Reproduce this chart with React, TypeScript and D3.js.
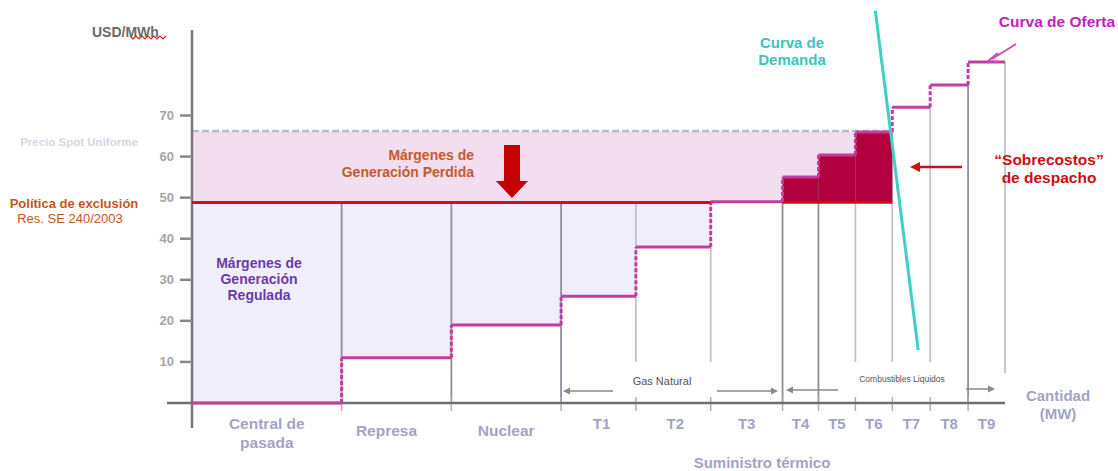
import React from "react";
import * as d3 from "d3";

const categories = ["Central de pasada", "Represa", "Nuclear", "T1", "T2", "T3", "T4", "T5", "T6", "T7", "T8", "T9"];
const capacities = [150, 110, 110, 75, 75, 72, 36, 37, 37, 38, 38, 37];
const costs = [0, 11, 19, 26, 38, 49, 55, 60.4, 66, 72, 77.4, 83];
const yTicks = [10, 20, 30, 40, 50, 60, 70];
const spotPrice = 66.2;
const exclusionPrice = 48.8;
const demandQ = [685, 728];
const demandP = [95.5, 12.9];
const fullBoundaries = [1, 2, 3, 6, 7, 11];
const labelShift = [0, -10, 0, 3, 2, 0, 0, 0, 0, 0, 0, 0];

const W = 1118, H = 471;
const X0 = 192, X1 = 1005, Y0 = 403;

export default function App() {
  const total = d3.sum(capacities);
  const x = d3.scaleLinear().domain([0, total]).range([X0, X1]);
  const y = d3.scaleLinear().domain([0, 70]).range([Y0, 115.5]);
  const edges = [0, ...d3.cumsum(capacities)];
  const segs = categories.map((c, i) => ({ name: c, q0: edges[i], q1: edges[i + 1], p: costs[i] }));
  const spotEnd = segs.find((s) => Math.abs(s.p - spotPrice) < 1)!.q1;
  const redEnd = segs.filter((s) => s.p < exclusionPrice - 0.01).slice(-1)[0].q1;
  const magenta = "#c23d9e";
  const labelCol = "#a5a3c3";
  const font = "Liberation Sans, Arial, sans-serif";
  const demandLine = d3.line<number>().x((d, i) => x(demandQ[i])).y((d) => y(d));

  const sq: string[] = [];
  for (let i = 0; i <= 12; i++) sq.push(`${130 + i * 3},${37 + (i % 2 ? 2 : -1)}`);

  return (
    <svg width={W} height={H} style={{ position: "absolute", left: 0, top: 0, background: "#fff" }} fontFamily={font}>
      <rect x={x(0)} y={y(spotPrice)} width={x(spotEnd) - x(0)} height={y(exclusionPrice) - y(spotPrice)} fill="#f3def0" />
      {segs.filter((s) => s.p < exclusionPrice - 0.01).map((s, i) => (
        <rect key={"lav" + i} x={x(s.q0)} y={y(exclusionPrice)} width={x(s.q1) - x(s.q0)} height={y(s.p) - y(exclusionPrice)} fill="#f0eefb" />
      ))}
      {edges.slice(1).map((e, k) => {
        const idx = k + 1;
        const top = y(Math.max(costs[k], exclusionPrice));
        const full = fullBoundaries.includes(idx);
        const bottom = full ? Y0 : idx === edges.length - 1 ? 373 : 362;
        return <line key={"b" + idx} x1={x(e)} x2={x(e)} y1={top} y2={bottom} stroke={full ? "#8e8e9c" : "#c2c2cc"} strokeWidth={1.8} />;
      })}
      {edges.slice(1, -1).map((e, k) => (
        <line key={"t" + k} x1={x(e)} x2={x(e)} y1={Y0 - 6} y2={Y0 + 8} stroke="#b0b0bb" strokeWidth={1.5} />
      ))}
      {segs.filter((s) => s.p > exclusionPrice + 0.01 && s.p <= spotPrice + 0.5).map((s, i) => (
        <rect key={"cr" + i} x={x(s.q0)} y={y(s.p)} width={x(s.q1) - x(s.q0)} height={y(exclusionPrice) - y(s.p)} fill="#b1003d" />
      ))}
      <line x1={x(segs[6].q0)} x2={x(spotEnd)} y1={y(exclusionPrice)} y2={y(exclusionPrice)} stroke="#d2101a" strokeWidth={2.5} />
      <line x1={x(0)} x2={x(spotEnd)} y1={y(spotPrice)} y2={y(spotPrice)} stroke="#b7bdd0" strokeWidth={2.5} strokeDasharray="7,3" />
      <line x1={X0} x2={X0} y1={30} y2={428} stroke="#777" strokeWidth={2.5} />
      <line x1={167} x2={X1} y1={Y0} y2={Y0} stroke="#6f6f6f" strokeWidth={2.5} />
      {yTicks.map((t) => (
        <g key={"yt" + t}>
          <line x1={180} x2={X0} y1={y(t)} y2={y(t)} stroke="#888" strokeWidth={2.5} />
          <text x={174} y={y(t) + 4.5} textAnchor="end" fontSize={13} fontWeight="bold" fill="#a6a6a6">{t}</text>
        </g>
      ))}
      {segs.map((s, i) => (
        <line key={"h" + i} x1={x(s.q0)} x2={x(s.q1)} y1={y(s.p)} y2={y(s.p)} stroke={magenta} strokeWidth={3} />
      ))}
      {segs.slice(1).map((s, i) => (
        <line key={"r" + i} x1={x(s.q0)} x2={x(s.q0)} y1={y(segs[i].p)} y2={y(s.p)} stroke={magenta} strokeWidth={3} strokeDasharray="4,2" />
      ))}
      <line x1={x(0)} x2={x(redEnd)} y1={y(exclusionPrice)} y2={y(exclusionPrice)} stroke="#d2101a" strokeWidth={3} />
      <path d={demandLine(demandP) || ""} stroke="#3fcfc6" strokeWidth={3} fill="none" />
      <path d="M504,145 L520,145 L520,181 L528,181 L512,198 L496,181 L504,181 Z" fill="#c40000" />
      <line x1={962} x2={918} y1={167} y2={167} stroke="#cc1111" strokeWidth={2.5} />
      <path d="M910,167 L920,162 L920,172 Z" fill="#cc1111" />
      <line x1={1016} x2={992} y1={44} y2={59} stroke="#c04fb8" strokeWidth={2} />
      <path d="M988,61 L998,53 M988,61 L999,62" stroke="#c04fb8" strokeWidth={2} fill="none" />
      {[[613, 563, 391], [717, 778, 391], [838, 786, 390], [966, 995, 389]].map(([a, b, yy], i) => (
        <g key={"ga" + i}>
          <line x1={a} x2={b + (b > a ? -5 : 5)} y1={yy} y2={yy} stroke="#8a8a8a" strokeWidth={1.5} />
          <path d={`M${b},${yy} L${b + (b > a ? -7 : 7)},${yy - 3.5} L${b + (b > a ? -7 : 7)},${yy + 3.5} Z`} fill="#8a8a8a" />
        </g>
      ))}
      <text x={92} y={37} fontSize={14} fontWeight="bold" fill="#6b6b6b">USD/MWh</text>
      <polyline points={sq.join(" ")} stroke="#dd2222" strokeWidth={1.2} fill="none" />
      <text x={79} y={146} textAnchor="middle" fontSize={11.5} fontWeight="bold" fill="#d3d6e3">Precio Spot Uniforme</text>
      <text x={74} y={208} textAnchor="middle" fontSize={13} fontWeight="bold" fill="#c4561c">Política de exclusión</text>
      <text x={70} y={223} textAnchor="middle" fontSize={13} fill="#c4561c">Res. SE 240/2003</text>
      <text x={474} y={160} textAnchor="end" fontSize={14} fontWeight="bold" fill="#c45a2a">Márgenes de</text>
      <text x={474} y={177} textAnchor="end" fontSize={14} fontWeight="bold" fill="#c45a2a">Generación Perdida</text>
      <text x={259} y={268} textAnchor="middle" fontSize={14} fontWeight="bold" fill="#6e3aa6">Márgenes de</text>
      <text x={259} y={284} textAnchor="middle" fontSize={14} fontWeight="bold" fill="#6e3aa6">Generación</text>
      <text x={259} y={300} textAnchor="middle" fontSize={14} fontWeight="bold" fill="#6e3aa6">Regulada</text>
      <text x={792} y={48} textAnchor="middle" fontSize={15} fontWeight="bold" fill="#3cc4bd">Curva de</text>
      <text x={792} y={65} textAnchor="middle" fontSize={15} fontWeight="bold" fill="#3cc4bd">Demanda</text>
      <text x={1057} y={27} textAnchor="middle" fontSize={15.5} fontWeight="bold" fill="#c21fbf">Curva de Oferta</text>
      <text x={1049} y={165} textAnchor="middle" fontSize={15.5} fontWeight="bold" fill="#cc0f0f">“Sobrecostos”</text>
      <text x={1049} y={183} textAnchor="middle" fontSize={15.5} fontWeight="bold" fill="#cc0f0f">de despacho</text>
      <text x={1058} y={401} textAnchor="middle" fontSize={15} fontWeight="bold" fill={labelCol}>Cantidad</text>
      <text x={1058} y={419} textAnchor="middle" fontSize={15} fontWeight="bold" fill={labelCol}>(MW)</text>
      <text x={662} y={385} textAnchor="middle" fontSize={11} fill="#555">Gas Natural</text>
      <text x={902} y={382} textAnchor="middle" fontSize={8.5} fill="#555">Combustibles Liquidos</text>
      <text x={762} y={468} textAnchor="middle" fontSize={15} fontWeight="bold" fill={labelCol}>Suministro térmico</text>
      {segs.map((s, i) => {
        const cx = (x(s.q0) + x(s.q1)) / 2 + labelShift[i];
        if (i === 0) {
          return (
            <g key={"xl" + i}>
              <text x={cx} y={429} textAnchor="middle" fontSize={15.5} fontWeight="bold" fill={labelCol}>Central de</text>
              <text x={cx} y={448} textAnchor="middle" fontSize={15.5} fontWeight="bold" fill={labelCol}>pasada</text>
            </g>
          );
        }
        return (
          <text key={"xl" + i} x={cx} y={i < 3 ? 436 : 429} textAnchor="middle" fontSize={i < 3 ? 15.5 : 15} fontWeight="bold" fill={labelCol}>{s.name}</text>
        );
      })}
    </svg>
  );
}
